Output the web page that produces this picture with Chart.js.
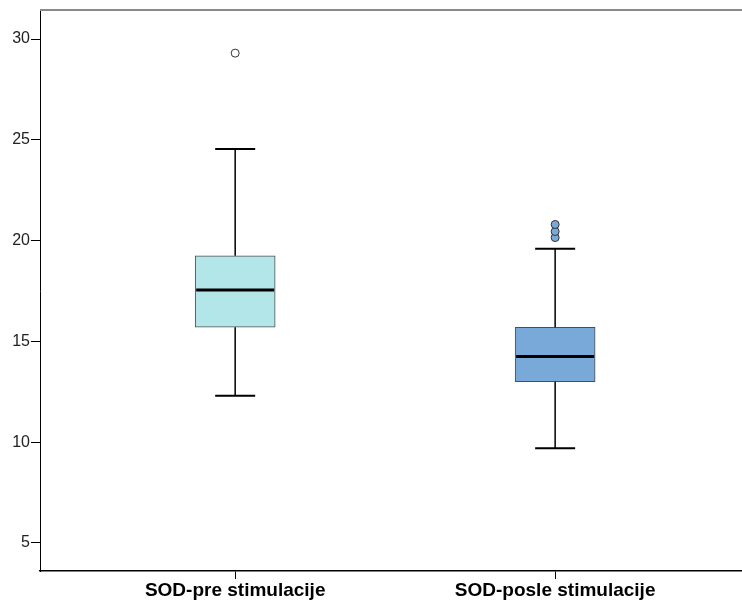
<!DOCTYPE html>
<html>
<head>
<meta charset="utf-8">
<script src="https://cdn.jsdelivr.net/npm/chart.js@4.4.0/dist/chart.umd.min.js"></script>
<style>
  body { margin: 0; background: #fff; }
  canvas { display: block; }
</style>
</head>
<body>
<canvas id="box_canvas" width="742" height="602"></canvas>
<script>
// box plot summary values
const categories = ['SOD-pre stimulacije', 'SOD-posle stimulacije'];
const whiskerLow = [12.3, 9.7];
const q1 = [15.7, 13.0];
const median = [17.55, 14.25];
const q3 = [19.25, 15.7];
const whiskerHigh = [24.55, 19.6];
const outliers = [[29.3], [20.15, 20.45, 20.8]];
const yTicks = [5, 10, 15, 20, 25, 30];

const boxColors = ['#b3e6e8', '#78a9d8'];
const outlierFill = ['#ffffff', '#78a9d8'];

// whiskers, caps, median lines and the grey frame line on top
const boxExtras = {
    id: 'boxExtras',
    afterDatasetsDraw(chart) {
        const ctx = chart.ctx;
        const y = chart.scales.y;
        const bars = chart.getDatasetMeta(0).data;
        ctx.save();
        ctx.strokeStyle = '#000';
        bars.forEach((bar, i) => {
            var half = bar.width / 2;
            var cap = half / 2;
            var cx = bar.x;
            ctx.lineWidth = 1.5;
            ctx.beginPath();
            ctx.moveTo(cx, y.getPixelForValue(q3[i]));
            ctx.lineTo(cx, y.getPixelForValue(whiskerHigh[i]));
            ctx.moveTo(cx, y.getPixelForValue(q1[i]));
            ctx.lineTo(cx, y.getPixelForValue(whiskerLow[i]));
            ctx.stroke();
            ctx.lineWidth = 2;
            ctx.beginPath();
            ctx.moveTo(cx - cap, y.getPixelForValue(whiskerHigh[i]));
            ctx.lineTo(cx + cap, y.getPixelForValue(whiskerHigh[i]));
            ctx.moveTo(cx - cap, y.getPixelForValue(whiskerLow[i]));
            ctx.lineTo(cx + cap, y.getPixelForValue(whiskerLow[i]));
            ctx.stroke();
            ctx.lineWidth = 3;
            ctx.beginPath();
            ctx.moveTo(cx - half + 1, y.getPixelForValue(median[i]));
            ctx.lineTo(cx + half - 1, y.getPixelForValue(median[i]));
            ctx.stroke();
        });
        var area = chart.chartArea;
        ctx.strokeStyle = '#8a8a8a';
        ctx.lineWidth = 2;
        ctx.beginPath();
        ctx.moveTo(area.left, area.top - 1);
        ctx.lineTo(chart.width, area.top - 1);
        ctx.stroke();
        ctx.restore();
    }
};

document.addEventListener('DOMContentLoaded', function () {
    Chart.defaults.font.family = '"Liberation Sans", Arial, sans-serif';

    var boxData = categories.map((c, i) => ({ x: i + 1, y: [q1[i], q3[i]] }));
    var outlierSets = outliers.map((vals, i) => ({
        type: 'scatter',
        data: vals.map(v => ({ x: i + 1, y: v })),
        pointRadius: 4,
        pointHoverRadius: 4,
        pointBackgroundColor: outlierFill[i],
        pointBorderColor: '#333',
        pointBorderWidth: 1
    }));

    new Chart(document.getElementById('box_canvas'), {
        type: 'bar',
        data: {
            datasets: [{
                data: boxData,
                backgroundColor: boxColors,
                borderColor: '#4d4d4d',
                borderWidth: 1,
                borderSkipped: false,
                barThickness: 80
            }].concat(outlierSets)
        },
        options: {
            responsive: false,
            animation: false,
            layout: { autoPadding: false, padding: { top: 11, left: 0, right: 0, bottom: 0 } },
            plugins: {
                legend: { display: false },
                tooltip: { enabled: false }
            },
            scales: {
                x: {
                    type: 'linear',
                    offset: false,
                    min: 0.39,
                    max: 2.584,
                    afterBuildTicks: (scale) => {
                        scale.ticks = categories.map((c, i) => ({ value: i + 1 }));
                    },
                    afterFit: (scale) => {
                        scale.height = 31;
                        scale.paddingLeft = 0;
                        scale.paddingRight = 0;
                    },
                    ticks: {
                        callback: (v) => categories[v - 1],
                        font: { size: 19, weight: 'bold' },
                        color: '#000',
                        padding: 0,
                        maxRotation: 0,
                        autoSkip: false
                    },
                    grid: { offset: false, drawOnChartArea: false, tickLength: 8, color: '#000', tickWidth: 1 },
                    border: { color: '#000', width: 1.5 }
                },
                y: {
                    min: 3.61,
                    max: 31.39,
                    afterBuildTicks: (scale) => {
                        scale.ticks = yTicks.map(v => ({ value: v }));
                    },
                    afterFit: (scale) => { scale.width = 40; },
                    ticks: {
                        font: { size: 16 },
                        color: '#222',
                        padding: 1
                    },
                    grid: { drawOnChartArea: false, tickLength: 9, color: '#000', tickWidth: 1 },
                    border: { color: '#000', width: 1 }
                }
            }
        },
        plugins: [boxExtras]
    });
});
</script>
</body>
</html>
